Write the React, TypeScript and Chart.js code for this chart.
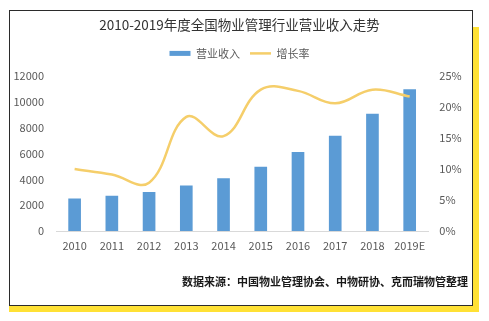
import React, { useEffect, useRef } from "react";
import { Chart, registerables } from "chart.js";

Chart.register(...registerables);

const categories = ["2010", "2011", "2012", "2013", "2014", "2015", "2016", "2017", "2018", "2019E"];
const revenue = [2500, 2700, 3000, 3500, 4050, 4950, 6100, 7350, 9050, 10950];
const growth = [10.0, 9.1, 7.8, 18.4, 15.3, 22.8, 22.6, 20.6, 22.8, 21.7];
const titleText = "2010-2019年度全国物业管理行业营业收入走势";
const sourceText = "数据来源：中国物业管理协会、中物研协、克而瑞物管整理";
const seriesNames = ["营业收入", "增长率"];

const FONT = "'Noto Sans CJK SC', 'Noto Sans', sans-serif";

export default function App() {
  const ref = useRef<HTMLCanvasElement | null>(null);

  useEffect(() => {
    const canvas = ref.current;
    if (!canvas) return;
    const chart = new Chart(canvas, {
      type: "bar",
      data: {
        labels: categories,
        datasets: [
          {
            type: "bar",
            label: seriesNames[0],
            data: revenue,
            backgroundColor: "#5B9BD5",
            borderWidth: 0,
            barThickness: 12,
            yAxisID: "y",
            order: 1,
            pointStyle: "rect",
          } as any,
          {
            type: "line",
            label: seriesNames[1],
            data: growth,
            borderColor: "#F5CE6A",
            backgroundColor: "#F5CE6A",
            borderWidth: 2.5,
            tension: 0.4,
            pointRadius: 0,
            yAxisID: "y1",
            order: 0,
            pointStyle: "line",
          } as any,
        ],
      },
      options: {
        responsive: false,
        animation: false,
        layout: { padding: { left: 11, right: 21, top: 0, bottom: 0 } },
        plugins: {
          title: {
            display: true,
            text: titleText,
            color: "#333333",
            font: { family: FONT, size: 13.5, weight: "normal" },
            padding: { top: 17, bottom: 4.7 },
          },
          legend: {
            display: true,
            position: "top",
            labels: {
              usePointStyle: true,
              pointStyleWidth: 21,
              boxHeight: 5,
              padding: 10,
              color: "#595959",
              font: { family: FONT, size: 11 },
              sort: (a: any, b: any) => a.datasetIndex - b.datasetIndex,
            },
          },
          subtitle: {
            display: true,
            position: "bottom",
            align: "end",
            text: sourceText,
            color: "#1a1a1a",
            font: { family: FONT, size: 11, weight: "bold" },
            padding: { top: 14.1, bottom: 32.7 },
          },
          tooltip: { enabled: false },
        },
        scales: {
          x: {
            type: "category",
            position: "bottom",
            grid: { display: false, drawTicks: false },
            border: { display: true, color: "#D9D9D9", width: 1 },
            ticks: { color: "#595959", font: { family: FONT, size: 11 }, padding: 8, maxRotation: 0 },
            afterFit: (s: any) => {
              s.height = 30;
            },
          },
          xTop: {
            type: "category",
            position: "top",
            display: true,
            grid: { display: false, drawTicks: false },
            border: { display: false },
            ticks: { display: false },
            afterFit: (s: any) => {
              s.height = 7.1;
            },
          },
          y: {
            type: "linear",
            position: "left",
            min: 0,
            max: 12000,
            ticks: {
              stepSize: 2000,
              color: "#595959",
              font: { family: FONT, size: 11 },
              padding: 12,
              callback: (v: any) => String(v),
            },
            grid: { display: false, drawTicks: false },
            border: { display: false },
            afterFit: (s: any) => {
              s.width = 45;
            },
          },
          y1: {
            type: "linear",
            position: "right",
            min: 0,
            max: 25,
            ticks: {
              stepSize: 5,
              color: "#595959",
              font: { family: FONT, size: 11 },
              padding: 11,
              callback: (v: any) => `${v}%`,
            },
            grid: { display: false, drawTicks: false },
            border: { display: false },
            afterFit: (s: any) => {
              s.width = 39.7;
            },
          },
        },
      } as any,
    });
    return () => chart.destroy();
  }, []);

  return (
    <div style={{ position: "fixed", left: 0, top: 0, width: 489, height: 321, background: "#ffffff" }}>
      <div style={{ position: "absolute", left: 9, top: 27, width: 470, height: 285, background: "#FFE135" }} />
      <div
        style={{
          position: "absolute",
          left: 9,
          top: 10,
          width: 464,
          height: 296,
          boxSizing: "border-box",
          border: "1.5px solid #2b2b2b",
          background: "#ffffff",
        }}
      />
      <canvas ref={ref} width={489} height={321} style={{ position: "absolute", left: 0, top: 0, width: 489, height: 321 }} />
    </div>
  );
}
